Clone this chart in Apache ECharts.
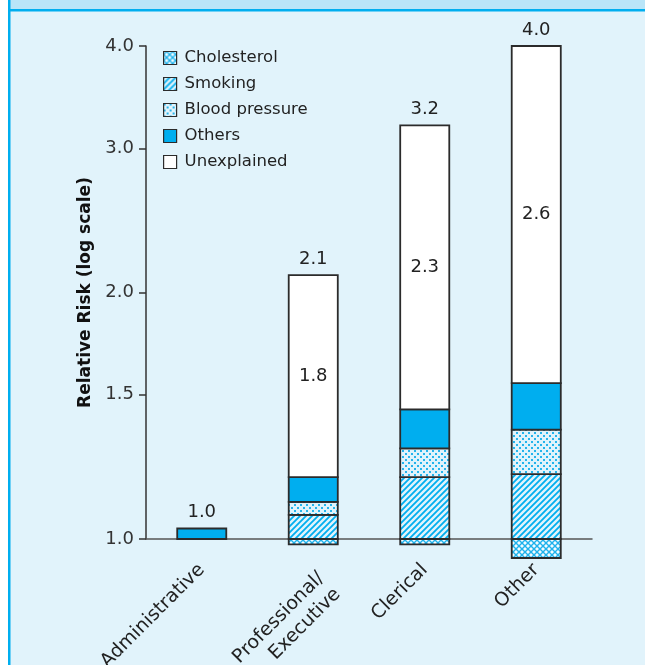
<!DOCTYPE html>
<html lang="en">
<head>
    <meta charset="UTF-8">
    <title>Relative Risk</title>
    <script src="https://cdn.jsdelivr.net/npm/echarts@6/dist/echarts.min.js"></script>
    <style>
        body { margin: 0; background: #fff; }
        #main { width: 645px; height: 665px; }
    </style>
</head>
<body>
<div id="main"></div>
<script type="text/javascript">
    // values (relative risk, log axis)
    var categories = ['Administrative', 'Professional/\nExecutive', 'Clerical', 'Other'];
    var totalRisk = [1.0, 2.1, 3.2, 4.0];
    var unexplainedRisk = [null, 1.8, 2.3, 2.6];
    var cholesterolBottom = [null, 0.985, 0.985, 0.948];
    var smokingTop = [null, 1.07, 1.19, 1.20];
    var pressureTop = [null, 1.11, 1.29, 1.36];
    var othersTop = [1.03, 1.19, 1.44, 1.55];
    var barTop = [1.03, 2.1, 3.2, 4.0];
    var yTicks = [1.0, 1.5, 2.0, 3.0, 4.0];

    var FONT = 'DejaVu Sans';
    var CYAN = '#00aeef';
    var BG = '#e1f3fb';

    function tile(size, draw) {
        var c = document.createElement('canvas');
        c.width = size;
        c.height = size;
        draw(c.getContext('2d'), size);
        return {image: c, repeat: 'repeat'};
    }

    var hatch = tile(6, function (g, s) {
        g.fillStyle = BG;
        g.fillRect(0, 0, s, s);
        g.strokeStyle = CYAN;
        g.lineWidth = 1.8;
        g.beginPath();
        g.moveTo(-1, s + 1); g.lineTo(s + 1, -1);
        g.moveTo(-1, 1); g.lineTo(1, -1);
        g.moveTo(s - 1, s + 1); g.lineTo(s + 1, s - 1);
        g.stroke();
    });
    var dots = tile(6, function (g, s) {
        g.fillStyle = BG;
        g.fillRect(0, 0, s, s);
        g.fillStyle = '#25b4ec';
        g.fillRect(0, 0, 2, 2);
        g.fillRect(3, 3, 2, 2);
    });
    var cross = tile(6, function (g, s) {
        g.fillStyle = '#1fb2ec';
        g.fillRect(0, 0, s, s);
        g.fillStyle = '#f2fbff';
        [[3, 3], [0, 0], [6, 0], [0, 6], [6, 6]].forEach(function (p) {
            g.beginPath();
            g.moveTo(p[0], p[1] - 2);
            g.lineTo(p[0] + 2, p[1]);
            g.lineTo(p[0], p[1] + 2);
            g.lineTo(p[0] - 2, p[1]);
            g.closePath();
            g.fill();
        });
    });

    function seg(lows, highs) {
        var out = [];
        for (var i = 0; i < categories.length; i++) {
            if (lows[i] == null || highs[i] == null) continue;
            out.push([i, lows[i], highs[i]]);
        }
        return out;
    }
    var ones = categories.map(function () { return 1; });

    var cholesterolData = seg(cholesterolBottom, ones);
    var smokingData = seg(smokingTop.map(function (v) { return v == null ? null : 1; }), smokingTop);
    var pressureData = seg(smokingTop, pressureTop);
    var othersData = seg(pressureTop.map(function (v) { return v == null ? 1 : v; }), othersTop);
    var unexplainedData = seg(unexplainedRisk.map(function (v, i) { return v == null ? null : othersTop[i]; }), barTop);

    function renderSeg(params, api) {
        var cat = api.value(0);
        var top = api.coord([cat, api.value(2)]);
        var bottom = api.coord([cat, api.value(1)]);
        var w = (api.coord([1, 1])[0] - api.coord([0, 1])[0]) * 0.44;
        return {
            type: 'rect',
            shape: {x: top[0] - w / 2, y: top[1], width: w, height: bottom[1] - top[1]},
            style: api.style({stroke: '#2b2b2b', lineWidth: 1.8})
        };
    }

    function segSeries(name, color, data) {
        return {
            name: name,
            type: 'custom',
            clip: false,
            renderItem: renderSeg,
            itemStyle: {color: color},
            encode: {x: 0, y: [1, 2]},
            data: data
        };
    }

    var topLabelData = barTop.map(function (v, i) { return [i, v]; });
    var innerLabelData = seg(unexplainedRisk.map(function (v, i) { return v == null ? null : othersTop[i]; }), barTop);

    var myChart = echarts.init(document.getElementById('main'));
    var option = {
        backgroundColor: BG,
        animation: false,
        textStyle: {fontFamily: FONT},
        graphic: [
            {type: 'rect', shape: {x: 0, y: 0, width: 8, height: 665}, style: {fill: '#ffffff'}},
            {type: 'rect', shape: {x: 8, y: 0, width: 637, height: 10}, style: {fill: '#b9e5f8'}},
            {type: 'rect', shape: {x: 8, y: 9, width: 637, height: 2.5}, style: {fill: CYAN}},
            {type: 'rect', shape: {x: 8, y: 0, width: 2.5, height: 665}, style: {fill: CYAN}}
        ],
        grid: {left: 146, right: 53, top: 46, bottom: 126, containLabel: false, outerBoundsMode: 'none'},
        legend: {
            orient: 'vertical',
            left: 158,
            top: 44,
            icon: 'rect',
            itemWidth: 13,
            itemHeight: 13,
            itemGap: 8,
            itemStyle: {borderColor: '#2b2b2b', borderWidth: 1.2},
            textStyle: {fontFamily: FONT, fontSize: 16.5, color: '#222', lineHeight: 18, padding: [0, 0, 0, 3]},
            data: ['Cholesterol', 'Smoking', 'Blood pressure', 'Others', 'Unexplained']
        },
        xAxis: {
            type: 'category',
            data: categories.map(function (c) {
                return c.indexOf('\n') >= 0 ? {value: c, textStyle: {verticalAlign: 'top'}} : c;
            }),
            axisLine: {lineStyle: {color: '#555', width: 1.5}},
            axisTick: {show: false},
            axisLabel: {
                rotate: 45,
                margin: 28,
                fontFamily: FONT,
                fontSize: 19,
                color: '#222',
                lineHeight: 23,
                interval: 0
            }
        },
        yAxis: {
            type: 'log',
            min: 1,
            max: 4,
            name: 'Relative Risk (log scale)',
            nameLocation: 'middle',
            nameGap: 52,
            nameTextStyle: {fontFamily: FONT, fontSize: 17, fontWeight: 'bold', color: '#111'},
            axisLine: {show: true, lineStyle: {color: '#333', width: 1.5}},
            axisTick: {show: true, length: 7, customValues: yTicks, lineStyle: {color: '#333', width: 1.5}},
            axisLabel: {
                customValues: yTicks,
                margin: 12,
                fontFamily: FONT,
                fontSize: 18,
                color: '#333',
                formatter: function (v) { return Number(v).toFixed(1); }
            },
            splitLine: {show: false}
        },
        series: [
            segSeries('Cholesterol', cross, cholesterolData),
            segSeries('Smoking', hatch, smokingData),
            segSeries('Blood pressure', dots, pressureData),
            segSeries('Others', CYAN, othersData),
            segSeries('Unexplained', '#ffffff', unexplainedData),
            {
                type: 'custom',
                clip: false,
                silent: true,
                encode: {x: 0, y: 1},
                data: topLabelData,
                renderItem: function (params, api) {
                    var p = api.coord([api.value(0), api.value(1)]);
                    return {
                        type: 'text',
                        x: p[0],
                        y: p[1] - 7,
                        style: {
                            text: totalRisk[params.dataIndex].toFixed(1),
                            align: 'center',
                            verticalAlign: 'bottom',
                            font: '18px "' + FONT + '"',
                            fill: '#222'
                        }
                    };
                }
            },
            {
                type: 'custom',
                clip: false,
                silent: true,
                encode: {x: 0, y: [1, 2]},
                data: innerLabelData,
                renderItem: function (params, api) {
                    var cat = api.value(0);
                    var a = api.coord([cat, api.value(1)]);
                    var b = api.coord([cat, api.value(2)]);
                    return {
                        type: 'text',
                        x: a[0],
                        y: (a[1] + b[1]) / 2,
                        z2: 10,
                        style: {
                            text: unexplainedRisk[cat].toFixed(1),
                            align: 'center',
                            verticalAlign: 'middle',
                            font: '18px "' + FONT + '"',
                            fill: '#222'
                        }
                    };
                }
            }
        ]
    };
    myChart.setOption(option);
</script>
</body>
</html>
